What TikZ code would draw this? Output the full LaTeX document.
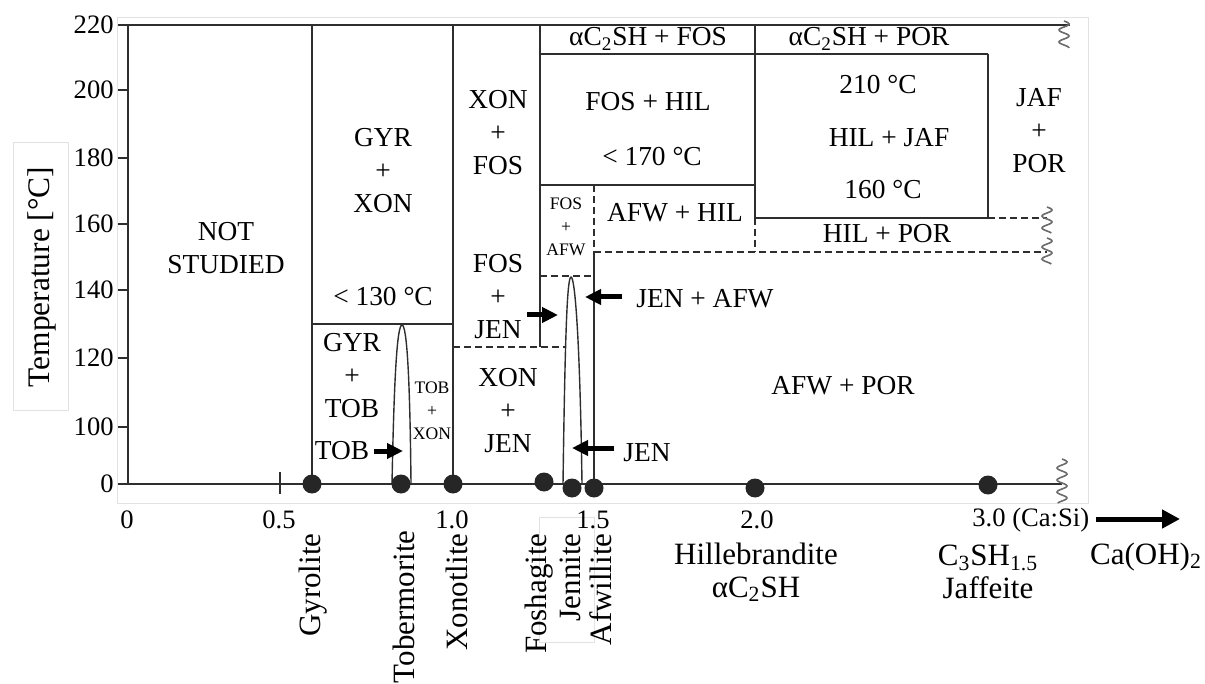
\documentclass[tikz,border=0pt]{standalone}
\usepackage{fontspec}
\setmainfont{Liberation Serif}
\usetikzlibrary{arrows.meta,positioning,calc}

\definecolor{lineGray}{HTML}{2E2E2E}
\definecolor{frameGray}{HTML}{E2E2E2}

\newcommand{\wavy}[3]{\draw[squig] plot[domain=0:#3, samples=50, variable=\t] ({#1+5*sin(\t*30)},{#2+\t});}

\begin{document}
\begin{tikzpicture}[
    x=0.5pt, y=-0.5pt,
    phase/.style={draw=lineGray, line width=1.3pt},
    bound/.style={draw=lineGray, line width=1.1pt, dash pattern=on 3.5pt off 2pt},
    spike/.style={draw=lineGray, line width=0.7pt},
    lbl/.style={align=center, inner sep=0pt, font=\fontsize{13.7}{16.5}\selectfont},
    small/.style={align=center, inner sep=0pt, font=\fontsize{8.8}{11.5}\selectfont},
    ticklbl/.style={inner sep=0pt, font=\fontsize{13.3}{16}\selectfont},
    mineral/.style={inner sep=0pt, rotate=90, anchor=east, font=\fontsize{15.5}{18}\selectfont},
    compound/.style={align=center, inner sep=0pt, font=\fontsize{15.5}{16.5}\selectfont},
    dot/.style={circle, fill=black!85, inner sep=0pt, minimum size=9.5pt},
    arrow/.style={-{Triangle[length=8pt,width=7.5pt]}, line width=2.5pt},
    squig/.style={draw=gray!85!black, line width=0.8pt},
    frame/.style={draw=frameGray, line width=0.5pt}
]
    \useasboundingbox (0,0) rectangle (1205,684);

    % faint frames
    \draw[frame] (117,18) rectangle (1088,503);
    \draw[frame] (13,143) rectangle (68,410);
    \draw[frame] (539,517) rectangle (594,642);

    % Axes
    \draw[phase] (128,484) -- (128,25) -- (1070,25);
    \draw[phase] (128,484) -- (1062,484);
    \draw[phase] (280,472) -- (280,494);
    \foreach \yy/\tt in {25/220, 90/200, 158/180, 224/160, 290/140, 358/120, 427/100, 484/0} {
        \draw[phase] (118,\yy) -- (128,\yy);
        \node[ticklbl, anchor=east] at (114,\yy) {\tt};
    }
    \foreach \xx/\tt in {127/0, 279/0.5, 452/1.0, 593/1.5, 757/2.0} {
        \node[ticklbl] at (\xx,520) {\tt};
    }
    \node[ticklbl, anchor=west] (casi) at (972,520) {3.0 (Ca:Si)};
    \coordinate (caend) at (1180,519);
    \draw[-{Triangle[length=9pt,width=9pt]}, line width=2.5pt] (casi.east) ++(6,-1) -- (caend);
    \node[compound] (caoh) at (1146,557) {Ca(OH)\textsubscript{2}};
    \node[rotate=90, inner sep=0pt, font=\fontsize{15.7}{18}\selectfont] (ylab) at (42,277) {Temperature [°C]};

    % Phase boundaries
    \draw[phase] (312,25) -- (312,484);
    \draw[phase] (453,25) -- (453,484);
    \draw[phase] (540,25) -- (540,347);
    \draw[phase] (594,252) -- (594,484);
    \draw[bound] (594,185) -- (594,252);
    \draw[phase] (755,25) -- (755,218);
    \draw[bound] (755,218) -- (755,252);
    \draw[phase] (988,54) -- (988,218);
    \draw[phase] (540,54) -- (988,54);
    \draw[phase] (540,185) -- (755,185);
    \draw[phase] (755,218) -- (988,218);
    \draw[bound] (988,218) -- (1047,218);
    \draw[bound] (594,252) -- (1047,252);
    \draw[bound] (540,276) -- (594,276);
    \draw[phase] (312,324) -- (453,324);
    \draw[bound] (453,347) -- (565,347);

    % Spikes
    \draw[spike] (392,484) .. controls (394,380) and (397,325) .. (402,325)
                 .. controls (407,325) and (410,380) .. (411,484);
    \draw[spike] (563,484) .. controls (565,340) and (567,277) .. (571,277)
                 .. controls (575,277) and (580,340) .. (582,484);

    % Squiggles
    \wavy{1064}{21}{27}
    \wavy{1047}{207}{26}
    \wavy{1047}{238}{26}
    \wavy{1062}{459}{44}

    % Dots
    \foreach \xx/\yy [count=\i] in {312/484, 401/484, 453/484, 544/482, 572/488, 594/488, 755/488, 988/485} {
        \node[dot] (d\i) at (\xx,\yy) {};
    }

    % Region labels
    \node[lbl] (notst) at (226,248) {NOT\\STUDIED};
    \node[lbl] (gyrxon) at (383,171) {GYR\\+\\XON};
    \node[lbl] (lt130) at (383,297) {< 130 °C};
    \node[lbl] (gyrtob) at (352,376) {GYR\\+\\TOB};
    \node[small] (tobxon) at (432,411) {TOB\\+\\XON};
    \node[lbl] (xonfos) at (498,133) {XON\\+\\FOS};
    \node[lbl] (fosjen) at (498,297) {FOS\\+\\JEN};
    \node[lbl] (xonjen) at (508,411) {XON\\+\\JEN};
    \node[lbl] (c2fos) at (648,39) {αC\textsubscript{2}SH + FOS};
    \node[lbl] (foshil) at (648,102) {FOS + HIL};
    \node[lbl] (lt170) at (652,157) {< 170 °C};
    \node[small] (fosafw) at (566,227) {FOS\\+\\AFW};
    \node[lbl] (afwhil) at (675,213) {AFW + HIL};
    \node[lbl] (c2por) at (869,39) {αC\textsubscript{2}SH + POR};
    \node[lbl] (t210) at (878,85) {210 °C};
    \node[lbl] (hiljaf) at (889,138) {HIL + JAF};
    \node[lbl] (t160) at (883,190) {160 °C};
    \node[lbl] (jafpor) at (1039,131) {JAF\\+\\POR};
    \node[lbl] (hilpor) at (887,234) {HIL + POR};
    \node[lbl] (afwpor) at (843,386) {AFW + POR};
    \node[lbl] (jenafw) at (705,299) {JEN + AFW};
    \node[lbl] (jen) at (647,453) {JEN};
    \node[lbl] (tob) at (342,451) {TOB};

    % Arrows
    \coordinate (tobtip) at (403,452);
    \coordinate (jentip) at (572,448);
    \coordinate (jenafwtip) at (585,297);
    \coordinate (fostail) at (527,315);
    \coordinate (fostip) at (558,315);
    \draw[arrow, shorten <=2pt] (tob.east) -- (tob.east -| tobtip);
    \draw[arrow, shorten <=4.5pt] (jen.west |- jentip) -- (jentip);
    \draw[arrow, shorten <=7pt] (jenafw.west |- jenafwtip) -- (jenafwtip);
    \draw[arrow] (fostail) -- (fostip);

    % Minerals
    \node[mineral] (gyro) at (313,533) {Gyrolite};
    \node[mineral] (tobe) at (404,530) {Tobermorite};
    \node[mineral] (xono) at (457,533) {Xonotlite};
    \node[mineral] (fosh) at (539,533) {Foshagite};
    \node[mineral] (jenn) at (570,533) {Jennite};
    \node[mineral] (afwi) at (601,533) {Afwillite};
    \node[compound] (hill) at (756,572) {Hillebrandite\\αC\textsubscript{2}SH};
    \node[compound] (jaff) at (988,572) {C\textsubscript{3}SH\textsubscript{1.5}\\Jaffeite};

\end{tikzpicture}
\end{document}
